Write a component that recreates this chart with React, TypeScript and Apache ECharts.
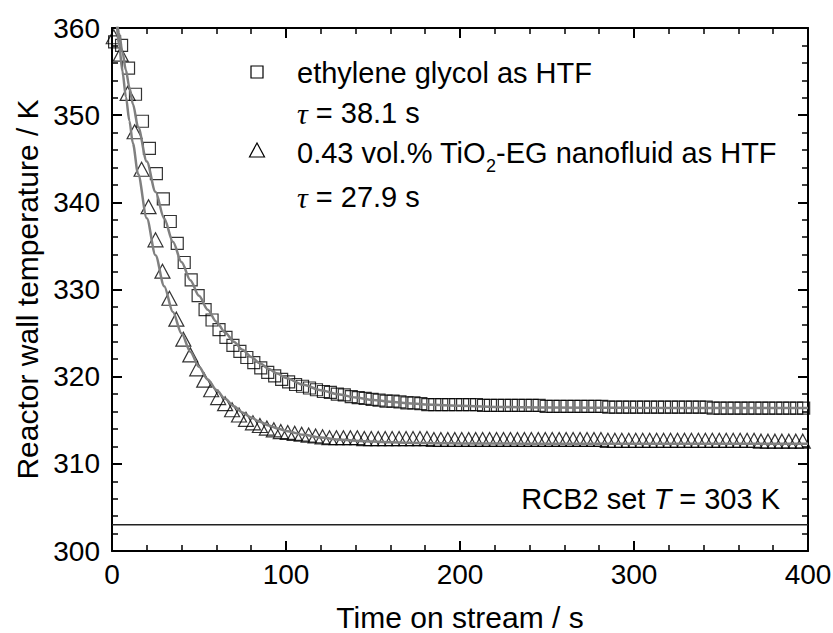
import React, { useEffect, useRef } from "react";
import * as echarts from "echarts";

const FONT = "'Liberation Sans', Arial, Helvetica, sans-serif";
const SERIF = "'Liberation Serif', 'Times New Roman', serif";

// Ethylene glycol as HTF (squares)
const egTime = [
  1.5, 5.5, 9.5, 13.5, 17.5, 21.5, 25.5, 29.5, 33.5, 37.5, 41.5, 45.5, 49.5, 53.5, 57.5,
  61.5, 65.5, 69.5, 73.5, 77.5, 81.5, 85.5, 89.5, 93.5, 97.5, 101.5, 105.5, 109.5, 113.5, 117.5,
  121.5, 125.5, 129.5, 133.5, 137.5, 141.5, 145.5, 149.5, 153.5, 157.5, 161.5, 165.5, 169.5, 173.5, 177.5,
  181.5, 185.5, 189.5, 193.5, 197.5, 201.5, 205.5, 209.5,
  213.5, 217.5, 221.5, 225.5, 229.5, 233.5, 237.5, 241.5, 245.5, 249.5, 253.5, 257.5, 261.5, 265.5, 269.5, 273.5, 277.5, 281.5,
  285.5, 289.5, 293.5, 297.5, 301.5, 305.5, 309.5, 313.5, 317.5, 321.5, 325.5, 329.5, 333.5, 337.5, 341.5,
  345.5, 349.5, 353.5, 357.5, 361.5, 365.5, 369.5, 373.5, 377.5, 381.5, 385.5, 389.5, 393.5, 397.5,
];
const egTemp = [
  358.4, 358.0, 355.4, 352.4, 349.3, 346.2, 343.3, 340.4, 337.8, 335.3, 333.1, 331.1, 329.3, 327.7, 326.5,
  325.4, 324.5, 323.6, 322.9, 322.2, 321.6, 321.0, 320.5, 320.1, 319.7, 319.4, 319.1, 318.9, 318.7, 318.5,
  318.3, 318.2, 318.0, 317.9, 317.7, 317.6, 317.5, 317.4, 317.3, 317.2, 317.2, 317.1, 317.0, 317.0, 316.9,
  316.8, 316.8, 316.8, 316.8, 316.8, 316.8, 316.8, 316.8,
  316.7, 316.7, 316.7, 316.7, 316.7, 316.7, 316.7, 316.7, 316.7, 316.6, 316.6, 316.6, 316.6, 316.6, 316.6, 316.6, 316.6, 316.6,
  316.5, 316.5, 316.5, 316.5, 316.5, 316.5, 316.5, 316.5, 316.5, 316.5, 316.5, 316.5, 316.5, 316.5, 316.5,
  316.4, 316.4, 316.4, 316.4, 316.4, 316.4, 316.4, 316.4, 316.4, 316.4, 316.4, 316.4, 316.4, 316.4,
];

// 0.43 vol.% TiO2-EG nanofluid as HTF (triangles)
const nanoTime = [
  1, 5, 9, 13, 17, 21, 25, 29, 33, 37, 41, 45, 49, 53, 57,
  61, 65, 69, 73, 77, 81, 85, 89, 93, 97, 101, 105, 109, 113, 117, 121,
  125, 129, 133, 137, 141,
  145, 149, 153, 157, 161, 165, 169, 173, 177, 181,
  185, 189, 193, 197, 201, 205, 209, 213, 217, 221, 225, 229, 233, 237, 241, 245, 249, 253, 257, 261, 265, 269, 273, 277, 281,
  285, 289, 293, 297, 301, 305, 309, 313, 317, 321, 325, 329, 333, 337, 341, 345, 349, 353, 357, 361, 365, 369,
  373, 377, 381, 385, 389, 393, 397,
];
const nanoTemp = [
  359.0, 357.0, 352.5, 348.1, 343.8, 339.5, 335.7, 332.1, 329.0, 326.6, 324.3, 322.5, 320.9, 319.6, 318.5,
  317.6, 316.9, 316.2, 315.6, 315.1, 314.7, 314.4, 314.1, 313.9, 313.7, 313.6, 313.5, 313.4, 313.3, 313.2, 313.1,
  313.0, 313.0, 313.0, 313.0, 313.0,
  312.9, 312.9, 312.9, 312.9, 312.9, 312.9, 312.9, 312.9, 312.9, 312.9,
  312.8, 312.8, 312.8, 312.8, 312.8, 312.8, 312.8, 312.8, 312.8, 312.8, 312.8, 312.8, 312.8, 312.8, 312.8, 312.8, 312.8, 312.8, 312.8, 312.8, 312.8, 312.8, 312.8, 312.8, 312.8,
  312.7, 312.7, 312.7, 312.7, 312.7, 312.7, 312.7, 312.7, 312.7, 312.7, 312.7, 312.7, 312.7, 312.7, 312.7, 312.7, 312.7, 312.7, 312.7, 312.7, 312.7, 312.7,
  312.6, 312.6, 312.6, 312.6, 312.6, 312.6, 312.6,
];

// Fitted curves
const fitTime = [0, 2, 4, 6, 8, 10, 12, 15, 20, 25, 30, 35, 40, 45, 50, 55, 60, 65, 70, 75, 80, 85, 90, 95, 100, 110, 120, 130, 140, 150, 160, 170, 180, 190, 200, 225, 250, 300, 350, 400];
const egFit = [364.2, 361.76, 359.43, 357.24, 355.15, 353.16, 351.28, 348.65, 344.68, 341.2, 338.15, 335.48, 333.13, 331.07, 329.27, 327.69, 326.3, 325.08, 324.01, 323.08, 322.26, 321.54, 320.9, 320.35, 319.86, 319.06, 318.45, 317.98, 317.61, 317.33, 317.12, 316.95, 316.82, 316.73, 316.65, 316.53, 316.47, 316.42, 316.4, 316.4];
const nanoFit = [365.3, 361.63, 358.22, 355.04, 352.09, 349.34, 346.77, 343.26, 338.18, 333.93, 330.38, 327.42, 324.94, 322.86, 321.13, 319.68, 318.47, 317.46, 316.61, 315.9, 315.31, 314.82, 314.4, 314.06, 313.77, 313.33, 313.02, 312.8, 312.65, 312.55, 312.47, 312.42, 312.38, 312.36, 312.34, 312.32, 312.31, 312.3, 312.3, 312.3];

// Set-point line
const setTime = [0, 400];
const setTemp = [303, 303];

const xTicks = { min: 0, max: 400, interval: 100 };
const yTicks = { min: 300, max: 360, interval: 10 };

function measure(text: string, size: number): number {
  const c = document.createElement("canvas");
  const ctx = c.getContext("2d");
  if (!ctx) return text.length * size * 0.5;
  ctx.font = `${size}px 'Liberation Sans', Arial, sans-serif`;
  return ctx.measureText(text).width;
}

export default function App() {
  const ref = useRef<HTMLDivElement>(null);

  useEffect(() => {
    if (!ref.current) return;
    const chart = echarts.init(ref.current, null, { renderer: "svg" });

    const axisCommon = {
      type: "value" as const,
      axisLine: { show: true, onZero: false, lineStyle: { color: "#000", width: 2 } },
      axisTick: { show: true, inside: true, length: 10, lineStyle: { color: "#000", width: 2 } },
      minorTick: { show: true, splitNumber: 5, length: 6, lineStyle: { color: "#000", width: 1.5 } },
      splitLine: { show: false },
      minorSplitLine: { show: false },
    };

    const legX = 297;
    const LS = 29;
    const SUB = 18;
    const w1 = measure("0.43 vol.% TiO", LS);
    const w2 = measure("2", SUB);

    const option = {
      animation: false,
      backgroundColor: "#ffffff",
      grid: { left: 112, right: 25, top: 28, bottom: 82, containLabel: false, outerBoundsMode: "none" },
      xAxis: [
        {
          ...axisCommon,
          ...xTicks,
          position: "bottom",
          name: "Time on stream / s",
          nameLocation: "middle",
          nameGap: 51,
          nameTextStyle: { fontSize: 30, color: "#000", fontFamily: FONT },
          axisLabel: { fontSize: 28, color: "#000", margin: 9, fontFamily: FONT },
        },
        {
          ...axisCommon,
          ...xTicks,
          position: "top",
          axisLabel: { show: false },
        },
      ],
      yAxis: [
        {
          ...axisCommon,
          ...yTicks,
          position: "left",
          name: "Reactor wall temperature / K",
          nameLocation: "middle",
          nameGap: 66,
          nameTextStyle: { fontSize: 30, color: "#000", fontFamily: FONT },
          axisLabel: { fontSize: 28, color: "#000", margin: 12, fontFamily: FONT },
        },
        {
          ...axisCommon,
          ...yTicks,
          position: "right",
          axisLabel: { show: false },
        },
      ],
      series: [
        {
          type: "scatter",
          name: "ethylene glycol as HTF",
          data: egTime.map((t, i) => [t, egTemp[i]]),
          symbol: "rect",
          symbolSize: 12,
          itemStyle: { color: "rgba(0,0,0,0)", borderColor: "#000", borderWidth: 1.2 },
          z: 2,
        },
        {
          type: "scatter",
          name: "0.43 vol.% TiO2-EG nanofluid as HTF",
          data: nanoTime.map((t, i) => [t, nanoTemp[i]]),
          symbol: "triangle",
          symbolSize: [15, 14],
          itemStyle: { color: "rgba(0,0,0,0)", borderColor: "#000", borderWidth: 1.2 },
          z: 2,
        },
        {
          type: "line",
          name: "EG fit",
          data: fitTime.map((t, i) => [t, egFit[i]]),
          smooth: 0.3,
          smoothMonotone: "x",
          showSymbol: false,
          symbol: "none",
          lineStyle: { color: "#808080", width: 2.5 },
          z: 3,
        },
        {
          type: "line",
          name: "nanofluid fit",
          data: fitTime.map((t, i) => [t, nanoFit[i]]),
          smooth: 0.3,
          smoothMonotone: "x",
          showSymbol: false,
          symbol: "none",
          lineStyle: { color: "#808080", width: 2.5 },
          z: 3,
        },
        {
          type: "line",
          name: "RCB2 set T",
          data: setTime.map((t, i) => [t, setTemp[i]]),
          showSymbol: false,
          symbol: "none",
          lineStyle: { color: "#222", width: 1.5 },
          z: 3,
        },
      ],
      graphic: [
        {
          type: "rect",
          shape: { x: 251, y: 66, width: 12, height: 12 },
          style: { fill: "none", stroke: "#000", lineWidth: 1.2 },
        },
        {
          type: "polygon",
          shape: { points: [[257, 143], [249.5, 157], [264.5, 157]] },
          style: { fill: "none", stroke: "#000", lineWidth: 1.2 },
        },
        {
          type: "text",
          x: legX,
          y: 73,
          style: { text: "ethylene glycol as HTF", fontSize: LS, fontFamily: FONT, fill: "#000", verticalAlign: "middle" },
        },
        {
          type: "text",
          x: legX,
          y: 113,
          style: {
            text: "{t|τ} = 38.1 s",
            fontSize: LS,
            fontFamily: FONT,
            fill: "#000",
            verticalAlign: "middle",
            rich: { t: { fontFamily: SERIF, fontStyle: "italic", fontSize: 30, fill: "#000" } },
          },
        },
        {
          type: "text",
          x: legX,
          y: 153,
          style: { text: "0.43 vol.% TiO", fontSize: LS, fontFamily: FONT, fill: "#000", verticalAlign: "middle" },
        },
        {
          type: "text",
          x: legX + w1,
          y: 166,
          style: { text: "2", fontSize: SUB, fontFamily: FONT, fill: "#000", verticalAlign: "middle" },
        },
        {
          type: "text",
          x: legX + w1 + w2,
          y: 153,
          style: { text: "-EG nanofluid as HTF", fontSize: LS, fontFamily: FONT, fill: "#000", verticalAlign: "middle" },
        },
        {
          type: "text",
          x: legX,
          y: 197,
          style: {
            text: "{t|τ} = 27.9 s",
            fontSize: LS,
            fontFamily: FONT,
            fill: "#000",
            verticalAlign: "middle",
            rich: { t: { fontFamily: SERIF, fontStyle: "italic", fontSize: 30, fill: "#000" } },
          },
        },
        {
          type: "text",
          x: 780,
          y: 499,
          style: {
            text: "RCB2 set {i|T} = 303 K",
            fontSize: LS,
            fontFamily: FONT,
            fill: "#000",
            align: "right",
            verticalAlign: "middle",
            rich: { i: { fontFamily: FONT, fontStyle: "italic", fontSize: LS, fill: "#000" } },
          },
        },
      ],
    };

    chart.setOption(option as any);
    return () => {
      chart.dispose();
    };
  }, []);

  return (
    <div
      ref={ref}
      style={{ position: "fixed", left: 0, top: 0, width: 833, height: 633, background: "#fff" }}
    />
  );
}
